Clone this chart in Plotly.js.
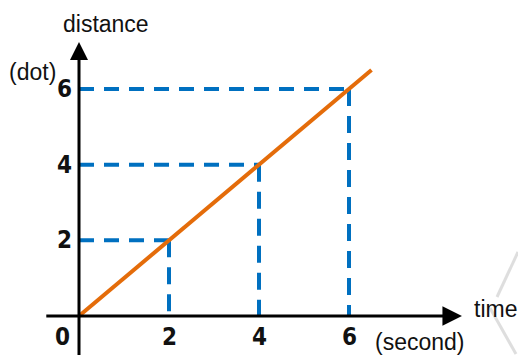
<!DOCTYPE html>
<html>
<head>
<meta charset="utf-8">
<script src="https://cdn.plot.ly/plotly-3.0.1.min.js"></script>
<style>html,body{margin:0;padding:0;background:#fff;}#chart{width:518px;height:355px;}</style>
</head>
<body>
<div id="chart"></div>
<script>
// ---- data ----
const timeTicks = [2, 4, 6];          // seconds
const distanceTicks = [2, 4, 6];      // dots
const lineTime = [0, 6.5];
const lineDistance = [0, 6.5];
const originLabel = '0';
const xAxisName = 'time';
const xAxisUnit = '(second)';
const yAxisName = 'distance';
const yAxisUnit = '(dot)';

const W = 518, H = 355;
const blue = '#0070C0', orange = '#E46C0A';
const tickFont = {family: 'Liberation Sans Narrow, DejaVu Sans Condensed, Arial Narrow, sans-serif', size: 24, color: '#111'};
const textFont = {family: 'Liberation Sans, Arial, sans-serif', size: 23, color: '#111'};

const traces = [];
// dashed guide lines
timeTicks.forEach((t, i) => {
  const d = distanceTicks[i];
  traces.push({x: [0, t], y: [d, d], mode: 'lines', line: {color: blue, width: 4, dash: '15px,10px'}, hoverinfo: 'skip', cliponaxis: false});
  traces.push({x: [t, t], y: [d, 0], mode: 'lines', line: {color: blue, width: 4, dash: '17px,10px'}, hoverinfo: 'skip', cliponaxis: false});
});
// distance-time line
traces.push({x: lineTime, y: lineDistance, mode: 'lines', line: {color: orange, width: 4}, hoverinfo: 'skip'});

const annotations = [];
// axes with arrows
annotations.push({x: 8.51, y: 0, ax: -0.76, ay: 0, xref: 'x', yref: 'y', axref: 'x', ayref: 'y', text: '', showarrow: true, arrowhead: 2, arrowsize: 1.3, arrowwidth: 3, arrowcolor: '#000'});
annotations.push({x: 0, y: 7.24, ax: 0, ay: -1.1, xref: 'x', yref: 'y', axref: 'x', ayref: 'y', text: '', showarrow: true, arrowhead: 2, arrowsize: 1.2, arrowwidth: 3, arrowcolor: '#000'});
// tick labels
timeTicks.forEach(t => annotations.push({x: t, y: 0, xref: 'x', yref: 'y', text: '<b>' + t + '</b>', showarrow: false, xanchor: 'center', yanchor: 'middle', yshift: -21, font: tickFont}));
distanceTicks.forEach(d => annotations.push({x: 0, y: d, xref: 'x', yref: 'y', text: '<b>' + d + '</b>', showarrow: false, xanchor: 'right', yanchor: 'middle', xshift: -5, font: tickFont}));
annotations.push({x: 0, y: 0, xref: 'x', yref: 'y', text: '<b>' + originLabel + '</b>', showarrow: false, xanchor: 'center', yanchor: 'middle', xshift: -17, yshift: -21, font: tickFont});
// axis names
const txt = (px, py, s, xa) => ({x: px / W, y: 1 - py / H, xref: 'paper', yref: 'paper', text: s, showarrow: false, xanchor: xa || 'center', yanchor: 'middle', font: textFont});
annotations.push(txt(106, 24, yAxisName));
annotations.push(txt(32, 72, yAxisUnit));
annotations.push(txt(472, 309, xAxisName, 'left'));
annotations.push(txt(419, 342, xAxisUnit));

// faint background watermark strokes
const shapes = [
  {type: 'line', xref: 'paper', yref: 'paper', x0: 497 / W, y0: 1 - 297 / H, x1: 518 / W, y1: 1 - 252 / H, line: {color: 'rgba(200,200,200,0.6)', width: 3}},
  {type: 'line', xref: 'paper', yref: 'paper', x0: 490 / W, y0: 1 - 308 / H, x1: 516 / W, y1: 1 - 354 / H, line: {color: 'rgba(200,200,200,0.6)', width: 3}}
];

const layout = {
  width: W, height: H,
  margin: {l: 0, r: 0, t: 0, b: 0},
  paper_bgcolor: '#fff', plot_bgcolor: '#fff',
  showlegend: false,
  xaxis: {range: [-1.7556, 9.7556], visible: false, fixedrange: true},
  yaxis: {range: [-1.0308, 8.3524], visible: false, fixedrange: true},
  annotations: annotations,
  shapes: shapes
};
Plotly.newPlot('chart', traces, layout, {staticPlot: true, displayModeBar: false});
</script>
</body>
</html>
